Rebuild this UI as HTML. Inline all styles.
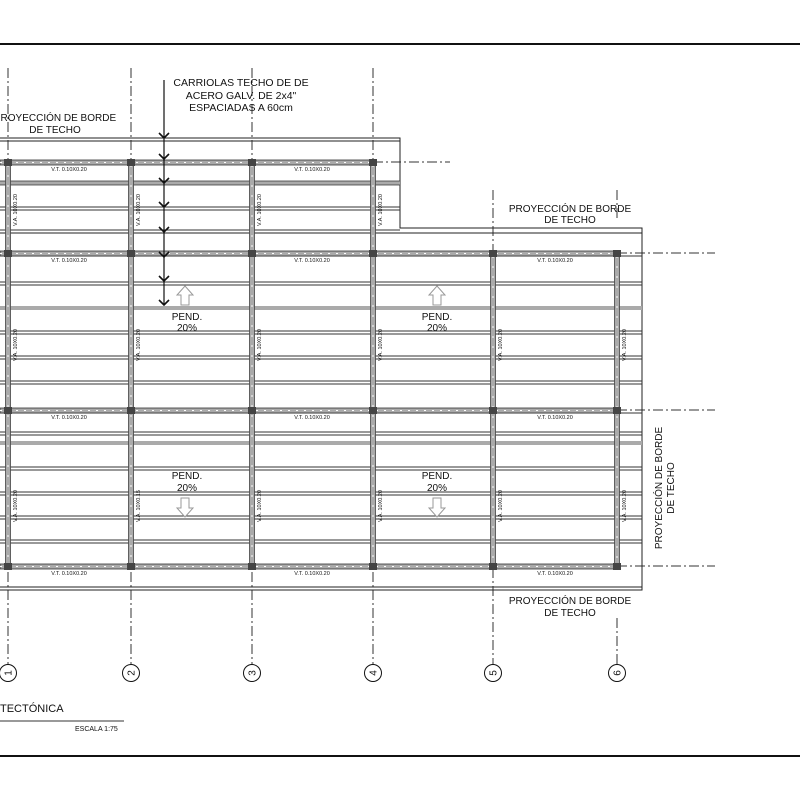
<!DOCTYPE html>
<html><head><meta charset="utf-8"><style>html,body{margin:0;padding:0;background:#fff}svg{display:block}text{font-family:"Liberation Sans",sans-serif;fill:#111}</style></head><body>
<svg width="800" height="800" viewBox="0 0 800 800" xmlns="http://www.w3.org/2000/svg">
<rect width="800" height="800" fill="#fff"/>
<line x1="0" y1="44" x2="800" y2="44" stroke="#111" stroke-width="2"/>
<line x1="0" y1="756" x2="800" y2="756" stroke="#111" stroke-width="2"/>

<g stroke="#333" stroke-width="1" stroke-dasharray="10,3,2,3" fill="none">
<line x1="8" y1="68" x2="8" y2="664"/>
<line x1="131" y1="68" x2="131" y2="664"/>
<line x1="252" y1="68" x2="252" y2="664"/>
<line x1="373" y1="68" x2="373" y2="664"/>
<line x1="493" y1="190" x2="493" y2="664"/>
<line x1="617" y1="190" x2="617" y2="220"/>
<line x1="617" y1="618" x2="617" y2="664"/>
<line x1="373" y1="162" x2="450" y2="162"/>
<line x1="617" y1="253" x2="715" y2="253"/>
<line x1="617" y1="410" x2="715" y2="410"/>
<line x1="617" y1="566" x2="715" y2="566"/>
</g>

<g stroke="#222" stroke-width="1" fill="none">
<path d="M0 138 H400 V228 H642 V590 H0"/>
<line x1="0" y1="141" x2="400" y2="141"/>
<line x1="0" y1="233" x2="642" y2="233"/>
<line x1="0" y1="587" x2="642" y2="587"/>
</g>

<g stroke="#333" stroke-width="0.9">
<line x1="0" y1="207" x2="400" y2="207"/><line x1="0" y1="210" x2="400" y2="210"/>
<line x1="0" y1="230" x2="400" y2="230"/>
</g>
<rect x="0" y="181" width="400" height="4" fill="#aaa"/>
<line x1="0" y1="181" x2="400" y2="181" stroke="#333" stroke-width="0.8"/>
<line x1="0" y1="185" x2="400" y2="185" stroke="#333" stroke-width="0.8"/>

<g stroke="#333" stroke-width="0.9">
<line x1="0" y1="282" x2="642" y2="282"/><line x1="0" y1="285" x2="642" y2="285"/>
<line x1="0" y1="331" x2="642" y2="331"/><line x1="0" y1="334" x2="642" y2="334"/>
<line x1="0" y1="356" x2="642" y2="356"/><line x1="0" y1="359" x2="642" y2="359"/>
<line x1="0" y1="381" x2="642" y2="381"/><line x1="0" y1="384" x2="642" y2="384"/>
<line x1="0" y1="432" x2="642" y2="432"/><line x1="0" y1="435" x2="642" y2="435"/>
<line x1="0" y1="467" x2="642" y2="467"/><line x1="0" y1="470" x2="642" y2="470"/>
<line x1="0" y1="492" x2="642" y2="492"/><line x1="0" y1="495" x2="642" y2="495"/>
<line x1="0" y1="516" x2="642" y2="516"/><line x1="0" y1="519" x2="642" y2="519"/>
<line x1="0" y1="540" x2="642" y2="540"/><line x1="0" y1="543" x2="642" y2="543"/>
<line x1="0" y1="256" x2="642" y2="256"/><line x1="0" y1="413" x2="642" y2="413"/>
</g>
<rect x="0" y="306" width="642" height="4" fill="#aaa"/>
<rect x="0" y="441" width="642" height="4" fill="#aaa"/>

<g fill="#aaa" stroke="#333" stroke-width="0.8">
<rect x="0" y="160" width="373" height="5"/>
<rect x="0" y="251" width="617" height="5"/>
<rect x="0" y="408" width="617" height="5"/>
<rect x="0" y="564" width="617" height="5"/>
</g>
<g stroke="#fff" stroke-width="1" stroke-dasharray="2,6">
<line x1="0" y1="162.5" x2="373" y2="162.5"/>
<line x1="0" y1="253.5" x2="617" y2="253.5"/>
<line x1="0" y1="410.5" x2="617" y2="410.5"/>
<line x1="0" y1="566.5" x2="617" y2="566.5"/>
</g>

<g fill="#aaa" stroke="#444" stroke-width="0.8">
<rect x="5.5" y="160" width="5" height="409"/>
<rect x="128.5" y="160" width="5" height="409"/>
<rect x="249.5" y="160" width="5" height="409"/>
<rect x="370.5" y="160" width="5" height="409"/>
<rect x="490.5" y="251" width="5" height="318"/>
<rect x="614.5" y="251" width="5" height="318"/>
</g>
<g stroke="#fff" stroke-width="1" stroke-dasharray="2,8">
<line x1="8" y1="165" x2="8" y2="564"/><line x1="131" y1="165" x2="131" y2="564"/>
<line x1="252" y1="165" x2="252" y2="564"/><line x1="373" y1="165" x2="373" y2="564"/>
<line x1="493" y1="256" x2="493" y2="564"/><line x1="617" y1="256" x2="617" y2="564"/>
</g>
<g fill="#444">
<rect x="4" y="159" width="8" height="7"/><rect x="127" y="159" width="8" height="7"/><rect x="248" y="159" width="8" height="7"/><rect x="369" y="159" width="8" height="7"/>
<rect x="4" y="250" width="8" height="7"/><rect x="127" y="250" width="8" height="7"/><rect x="248" y="250" width="8" height="7"/><rect x="369" y="250" width="8" height="7"/><rect x="489" y="250" width="8" height="7"/><rect x="613" y="250" width="8" height="7"/>
<rect x="4" y="407" width="8" height="7"/><rect x="127" y="407" width="8" height="7"/><rect x="248" y="407" width="8" height="7"/><rect x="369" y="407" width="8" height="7"/><rect x="489" y="407" width="8" height="7"/><rect x="613" y="407" width="8" height="7"/>
<rect x="4" y="563" width="8" height="7"/><rect x="127" y="563" width="8" height="7"/><rect x="248" y="563" width="8" height="7"/><rect x="369" y="563" width="8" height="7"/><rect x="489" y="563" width="8" height="7"/><rect x="613" y="563" width="8" height="7"/>
</g>

<g font-size="5.5" text-anchor="middle">
<text x="69" y="171">V.T. 0.10X0.20</text><text x="312" y="171">V.T. 0.10X0.20</text>
<text x="69" y="262">V.T. 0.10X0.20</text><text x="312" y="262">V.T. 0.10X0.20</text><text x="555" y="262">V.T. 0.10X0.20</text>
<text x="69" y="419">V.T. 0.10X0.20</text><text x="312" y="419">V.T. 0.10X0.20</text><text x="555" y="419">V.T. 0.10X0.20</text>
<text x="69" y="575">V.T. 0.10X0.20</text><text x="312" y="575">V.T. 0.10X0.20</text><text x="555" y="575">V.T. 0.10X0.20</text>
</g>
<g font-size="5.5" text-anchor="middle">
<text transform="translate(17,210) rotate(-90)">V.A. 10X0.20</text>
<text transform="translate(140,210) rotate(-90)">V.A. 10X0.20</text>
<text transform="translate(261,210) rotate(-90)">V.A. 10X0.20</text>
<text transform="translate(382,210) rotate(-90)">V.A. 10X0.20</text>
<text transform="translate(17,345) rotate(-90)">V.A. 10X0.20</text>
<text transform="translate(140,345) rotate(-90)">V.A. 10X0.20</text>
<text transform="translate(261,345) rotate(-90)">V.A. 10X0.20</text>
<text transform="translate(382,345) rotate(-90)">V.A. 10X0.20</text>
<text transform="translate(502,345) rotate(-90)">V.A. 10X0.20</text>
<text transform="translate(626,345) rotate(-90)">V.A. 10X0.20</text>
<text transform="translate(17,506) rotate(-90)">V.A. 10X0.20</text>
<text transform="translate(140,506) rotate(-90)">V.A. 10X0.15</text>
<text transform="translate(261,506) rotate(-90)">V.A. 10X0.20</text>
<text transform="translate(382,506) rotate(-90)">V.A. 10X0.20</text>
<text transform="translate(502,506) rotate(-90)">V.A. 10X0.20</text>
<text transform="translate(626,506) rotate(-90)">V.A. 10X0.20</text>
</g>

<line x1="164" y1="80" x2="164" y2="305" stroke="#111" stroke-width="1.2"/>
<g stroke="#111" stroke-width="1.6" fill="none">
<path d="M159 133 L164 138 L169 133"/><path d="M159 154 L164 159 L169 154"/><path d="M159 178 L164 183 L169 178"/>
<path d="M159 202 L164 207 L169 202"/><path d="M159 227 L164 232 L169 227"/><path d="M159 252 L164 257 L169 252"/>
<path d="M159 276 L164 281 L169 276"/><path d="M159 300 L164 305 L169 300"/>
</g>
<g font-size="10.5" text-anchor="middle">
<text x="241" y="86">CARRIOLAS TECHO DE DE</text>
<text x="241" y="99">ACERO GALV. DE 2x4"</text>
<text x="241" y="111">ESPACIADAS A 60cm</text>
</g>

<g stroke="#999" stroke-width="1" fill="#fff">
<path d="M185 286 L193 295 L189 295 L189 305 L181 305 L181 295 L177 295 Z"/>
<path d="M437 286 L445 295 L441 295 L441 305 L433 305 L433 295 L429 295 Z"/>
<path d="M185 517 L193 508 L189 508 L189 498 L181 498 L181 508 L177 508 Z"/>
<path d="M437 517 L445 508 L441 508 L441 498 L433 498 L433 508 L429 508 Z"/>
</g>
<g font-size="10" text-anchor="middle">
<text x="187" y="320">PEND.</text><text x="187" y="331">20%</text>
<text x="437" y="320">PEND.</text><text x="437" y="331">20%</text>
<text x="187" y="479">PEND.</text><text x="187" y="491">20%</text>
<text x="437" y="479">PEND.</text><text x="437" y="491">20%</text>
</g>

<g font-size="10" text-anchor="middle">
<text x="55" y="121">PROYECCIÓN DE BORDE</text><text x="55" y="133">DE TECHO</text>
<text x="570" y="212">PROYECCIÓN DE BORDE</text><text x="570" y="223">DE TECHO</text>
<text x="570" y="604">PROYECCIÓN DE BORDE</text><text x="570" y="616">DE TECHO</text>
<text transform="translate(662,488) rotate(-90)">PROYECCIÓN DE BORDE</text>
<text transform="translate(674,488) rotate(-90)">DE TECHO</text>
</g>

<g stroke="#111" stroke-width="1" fill="#fff">
<circle cx="8" cy="673" r="8.5"/><circle cx="131" cy="673" r="8.5"/><circle cx="252" cy="673" r="8.5"/>
<circle cx="373" cy="673" r="8.5"/><circle cx="493" cy="673" r="8.5"/><circle cx="617" cy="673" r="8.5"/>
</g>
<g font-size="10" text-anchor="middle">
<text transform="translate(11.5,673) rotate(-90)">1</text>
<text transform="translate(134.5,673) rotate(-90)">2</text>
<text transform="translate(255.5,673) rotate(-90)">3</text>
<text transform="translate(376.5,673) rotate(-90)">4</text>
<text transform="translate(496.5,673) rotate(-90)">5</text>
<text transform="translate(620.5,673) rotate(-90)">6</text>
</g>

<text x="0" y="712" font-size="11">TECTÓNICA</text>
<line x1="0" y1="721" x2="124" y2="721" stroke="#333" stroke-width="1"/>
<text x="75" y="731" font-size="7">ESCALA 1:75</text>
</svg>
</body></html>
